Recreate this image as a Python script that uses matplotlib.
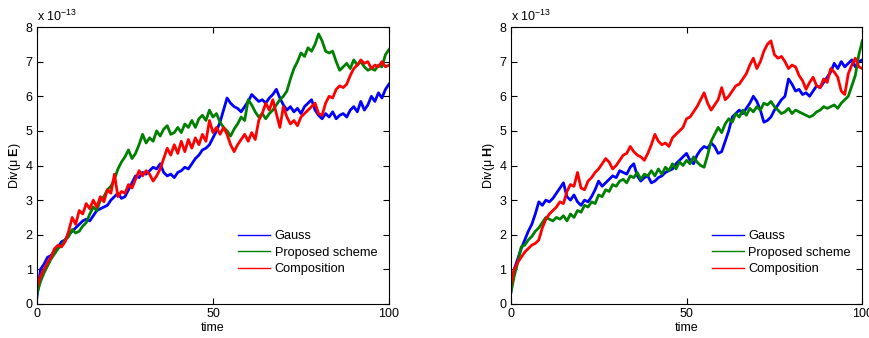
import matplotlib
matplotlib.use("Agg")
import matplotlib.pyplot as plt
import numpy as np

plt.rcParams['font.family'] = ['Liberation Sans', 'DejaVu Sans']
plt.rcParams['mathtext.fontset'] = 'custom'
plt.rcParams['mathtext.rm'] = 'Liberation Sans'
plt.rcParams['mathtext.bf'] = 'Liberation Sans:bold'
plt.rcParams['mathtext.it'] = 'Liberation Sans:italic'

# time grid (one sample per time unit)
t = np.linspace(0, 100, 101)

# left panel: Div(mu E), units of 1e-13
gauss_E = [0.2, 1.0, 1.15, 1.35, 1.4, 1.55, 1.65, 1.8, 1.85, 2.0,
           2.1, 2.2, 2.3, 2.4, 2.45, 2.4, 2.55, 2.7, 2.75, 2.8,
           2.85, 3.0, 3.1, 3.2, 3.05, 3.1, 3.3, 3.5, 3.7, 3.65,
           3.8, 3.75, 3.85, 3.95, 3.9, 4.05, 3.8, 3.7, 3.75, 3.65,
           3.8, 3.85, 3.95, 3.9, 4.05, 4.2, 4.3, 4.45, 4.5, 4.6,
           4.8, 5.0, 5.25, 5.6, 5.95, 5.8, 5.7, 5.65, 5.55, 5.7,
           5.85, 6.05, 5.95, 5.85, 5.9, 5.8, 5.95, 6.05, 6.2, 5.95,
           5.75, 5.6, 5.7, 5.55, 5.65, 5.5, 5.7, 5.8, 5.9, 5.6,
           5.45, 5.35, 5.5, 5.4, 5.55, 5.35, 5.45, 5.5, 5.4, 5.6,
           5.7, 5.55, 5.85, 5.6, 5.75, 6.0, 5.85, 6.1, 5.95, 6.2,
           6.35]
proposed_E = [0.3, 0.65, 0.9, 1.1, 1.3, 1.45, 1.6, 1.7, 1.85, 1.95,
              2.15, 2.05, 2.1, 2.25, 2.35, 2.6, 2.8, 2.7, 3.0, 3.1,
              3.3, 3.4, 3.6, 3.9, 4.1, 4.25, 4.45, 4.2, 4.35, 4.6,
              4.9, 4.65, 4.8, 4.7, 5.0, 4.85, 5.05, 5.15, 4.9, 4.95,
              5.1, 4.95, 5.2, 5.1, 5.3, 5.1, 5.35, 5.45, 5.3, 5.6,
              5.4, 5.5, 5.25, 5.1, 5.0, 4.85, 5.05, 5.2, 5.4, 5.3,
              5.9, 5.75, 5.55, 5.4, 5.5, 5.35, 5.5, 5.6, 5.75, 5.9,
              6.0, 6.15, 6.5, 6.8, 7.0, 7.25, 7.15, 7.4, 7.3, 7.5,
              7.8, 7.6, 7.3, 7.25, 7.3, 7.0, 6.75, 6.85, 6.95, 6.8,
              7.05, 6.9, 7.0, 6.85, 6.75, 6.8, 6.75, 6.9, 6.85, 7.2,
              7.35]
composition_E = [0.5, 0.8, 1.0, 1.2, 1.35, 1.6, 1.7, 1.65, 1.8, 2.1,
                 2.5, 2.3, 2.7, 2.6, 2.9, 2.75, 3.0, 2.8, 3.1, 2.95,
                 3.3, 3.2, 3.75, 3.1, 3.25, 3.2, 3.45, 3.35, 3.6, 3.85,
                 3.7, 3.85, 3.75, 3.55, 3.7, 3.9, 4.2, 4.5, 4.3, 4.6,
                 4.35, 4.7, 4.4, 4.75, 4.5, 4.8, 4.6, 4.9, 4.7, 5.3,
                 4.95, 5.1, 4.9, 5.1, 4.9, 4.6, 4.4, 4.6, 4.75, 4.9,
                 4.7, 4.95, 4.75, 5.3, 5.5, 5.8, 5.6, 5.9, 5.5, 5.1,
                 5.7, 5.4, 5.2, 5.3, 5.15, 5.4, 5.5, 5.6, 5.7, 5.8,
                 5.5, 5.45, 5.8, 6.0, 5.95, 6.2, 6.3, 6.25, 6.35, 6.6,
                 6.8, 6.9, 7.05, 6.95, 7.0, 6.8, 6.9, 6.85, 7.0, 6.85,
                 6.9]

# right panel: Div(mu H), units of 1e-13
gauss_H = [0.3, 1.0, 1.3, 1.6, 1.85, 2.1, 2.3, 2.6, 2.95, 2.85,
           3.0, 2.95, 3.05, 3.2, 3.35, 3.5, 3.1, 3.0, 3.15, 2.95,
           2.85, 3.0, 2.95, 3.1, 3.3, 3.55, 3.4, 3.5, 3.6, 3.7,
           3.65, 3.85, 3.8, 3.75, 3.95, 4.05, 3.7, 3.55, 3.65, 3.7,
           3.5, 3.55, 3.65, 3.7, 3.8, 3.85, 3.9, 4.05, 4.15, 4.25,
           4.35, 4.15, 4.05, 4.3, 4.45, 4.55, 4.5, 4.65, 4.55, 4.35,
           4.4, 4.7, 5.0, 5.4, 5.5, 5.6, 5.5, 5.65, 5.8, 6.0,
           5.85, 5.6, 5.25, 5.3, 5.4, 5.6, 5.75, 5.9, 6.0, 6.5,
           6.35, 6.15, 6.2, 6.05, 6.1, 6.0, 6.15, 6.3, 6.25, 6.4,
           6.55, 6.7, 6.95, 6.8, 7.0, 6.85, 6.95, 7.05, 6.85, 7.0,
           7.05]
proposed_H = [0.3, 0.8, 1.2, 1.65, 1.7, 1.85, 1.95, 2.1, 2.2, 2.35,
              2.5, 2.45, 2.4, 2.5, 2.45, 2.55, 2.4, 2.6, 2.5, 2.7,
              2.65, 2.85, 2.8, 2.95, 2.9, 3.15, 3.1, 3.3, 3.25, 3.45,
              3.4, 3.55, 3.6, 3.5, 3.7, 3.65, 3.8, 3.6, 3.75, 3.7,
              3.85, 3.7, 3.9, 3.75, 3.95, 3.85, 4.05, 3.9, 4.1, 4.0,
              4.15, 4.05, 4.25, 4.1, 4.0, 3.95, 4.3, 4.7, 4.9, 5.1,
              4.95, 5.2, 5.35, 5.25, 5.5, 5.4, 5.6, 5.45, 5.65, 5.55,
              5.7, 5.6, 5.8, 5.75, 5.85, 5.7, 5.6, 5.5, 5.55, 5.65,
              5.5, 5.6, 5.55, 5.5, 5.45, 5.4, 5.45, 5.55, 5.6, 5.7,
              5.65, 5.7, 5.75, 5.65, 5.8, 5.9, 6.0, 6.3, 6.6, 7.2,
              7.6]
composition_H = [0.5, 1.0, 1.2, 1.35, 1.5, 1.6, 1.7, 1.75, 1.85, 2.2,
                 2.45, 2.6, 2.7, 2.8, 2.95, 2.9, 3.25, 3.45, 3.4, 3.8,
                 3.35, 3.3, 3.55, 3.65, 3.8, 3.9, 4.05, 4.2, 4.1, 3.9,
                 4.0, 4.15, 4.3, 4.35, 4.55, 4.4, 4.3, 4.25, 4.15, 4.35,
                 4.6, 4.9, 4.7, 4.6, 4.65, 4.55, 4.8, 4.9, 5.0, 5.1,
                 5.35, 5.4, 5.55, 5.7, 5.9, 6.1, 5.8, 5.6, 5.75, 5.9,
                 6.25, 5.9, 6.0, 6.15, 6.3, 6.35, 6.5, 6.65, 6.9, 7.1,
                 6.8, 7.0, 7.3, 7.5, 7.6, 7.2, 7.1, 7.15, 7.0, 6.8,
                 6.9, 6.85, 6.6, 6.45, 6.2, 6.4, 6.55, 6.3, 6.25, 6.5,
                 6.4, 6.8, 6.7, 6.55, 6.15, 6.05, 6.65, 6.9, 7.1, 6.85,
                 6.8]

labels = ["Gauss", "Proposed scheme", "Composition"]
colors = ["#0000ff", "#008000", "#ff0000"]

fig = plt.figure(figsize=(8.7, 3.38), dpi=100)
ax1 = fig.add_axes([0.0425, 0.1006, 0.4046, 0.8195])
ax2 = fig.add_axes([0.587, 0.1006, 0.4042, 0.8195])

panels = [(ax1, [gauss_E, proposed_E, composition_E], "Div(\u03bc $\\mathbf{E}$)"),
          (ax2, [gauss_H, proposed_H, composition_H], "Div(\u03bc $\\mathbf{H}$)")]

for ax, series, ylab in panels:
    for vals, lab, c in zip(series, labels, colors):
        ax.plot(t, vals, color=c, lw=2.0, label=lab)
    ax.set_xlim(0, 100)
    ax.set_ylim(0, 8)
    ax.set_xticks([0, 50, 100])
    ax.set_yticks(range(0, 9))
    ax.tick_params(direction='in', top=True, right=True, length=4,
                   labelsize=9, pad=3)
    ax.set_xlabel("time", fontsize=9, labelpad=1)
    ax.set_ylabel(ylab, fontsize=9, labelpad=2)
    ax.text(0.0, 1.012, r"x 10$^{-13}$", transform=ax.transAxes,
            fontsize=9, ha='left', va='bottom')
    leg = ax.legend(loc='lower right', bbox_to_anchor=(1.0, 0.062),
                    frameon=False, fontsize=9.2, handlelength=2.5,
                    handletextpad=0.35, labelspacing=0.36)
    for h in leg.get_lines():
        h.set_linewidth(1.0)

fig.savefig("out.png", dpi=100)
